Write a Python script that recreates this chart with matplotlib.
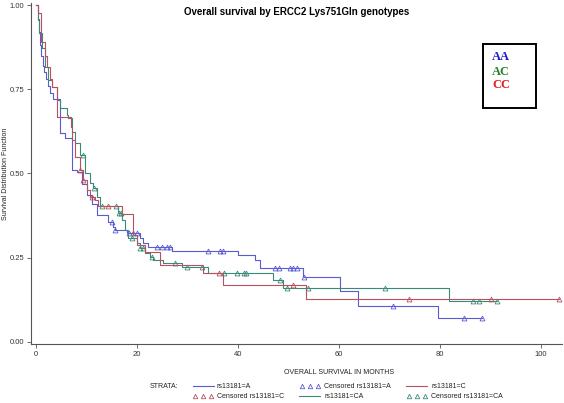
import matplotlib
matplotlib.use("Agg")
import matplotlib.pyplot as plt
from matplotlib.lines import Line2D

plt.rcParams['font.family'] = ['Liberation Sans', 'DejaVu Sans']

# ---- data (months, survival) ----
a_t = [0, 0.3, 0.5, 0.8, 1.0, 1.3, 1.6, 1.9, 2.3, 2.8, 3.4, 4.75, 5.7, 7.1, 8.1, 9.1, 10.1, 11.1,
       12.1, 14.3, 15.2, 15.6, 18.0, 20.6, 21.2, 22.2, 27.0, 40.0, 43.4, 44.4, 52.9, 60.2, 63.8, 79.6, 88.3]
a_s = [1.0, 0.96, 0.92, 0.88, 0.85, 0.82, 0.80, 0.78, 0.76, 0.74, 0.72, 0.62, 0.605, 0.51, 0.505, 0.47,
       0.436, 0.41, 0.377, 0.356, 0.34, 0.332, 0.323, 0.31, 0.294, 0.282, 0.27, 0.258, 0.243, 0.22,
       0.193, 0.15, 0.108, 0.071, 0.071]
a_cens_t = [15.0, 15.6, 18.4, 19.2, 20.0, 24.0, 25.0, 26.0, 26.5, 34.0, 36.4, 37.0, 47.3, 48.1,
            50.3, 50.9, 51.7, 53.1, 70.7, 84.8, 88.3]

c_t = [0, 0.4, 1.0, 1.8, 2.2, 2.8, 3.2, 4.2, 6.9, 7.1, 7.7, 8.7, 9.3, 10.1, 10.7, 11.6, 12.3,
       17.0, 19.2, 20.0, 21.6, 24.5, 33.1, 37.0, 53.5, 103.6]
c_s = [1.0, 0.976, 0.89, 0.85, 0.816, 0.78, 0.757, 0.668, 0.638, 0.60, 0.55, 0.51, 0.48, 0.45,
       0.43, 0.42, 0.405, 0.38, 0.318, 0.288, 0.267, 0.228, 0.205, 0.169, 0.128, 0.128]
c_cens_t = [8.7, 9.4, 11.1, 14.3, 36.2, 50.9, 73.9, 90.1, 103.6]

ca_t = [0, 0.4, 0.6, 1.2, 1.8, 2.4, 3.2, 4.2, 4.75, 6.1, 6.3, 7.1, 7.7, 8.7, 9.7, 10.7, 11.3, 12.1,
        12.7, 16.2, 17.0, 17.6, 18.2, 20.0, 20.6, 21.6, 22.6, 23.2, 25.1, 28.9, 34.0, 46.9, 48.9,
        81.8, 91.3]
ca_s = [1.0, 0.955, 0.917, 0.872, 0.816, 0.777, 0.757, 0.718, 0.694, 0.674, 0.665, 0.623, 0.59,
        0.555, 0.50, 0.472, 0.457, 0.43, 0.405, 0.383, 0.362, 0.332, 0.309, 0.294, 0.279, 0.264,
        0.252, 0.243, 0.234, 0.223, 0.205, 0.184, 0.16, 0.122, 0.122]
ca_cens_t = [9.3, 11.5, 13.1, 15.9, 16.4, 16.8, 19.0, 20.6, 21.2, 23.0, 27.5, 29.9, 32.9, 37.2,
             39.8, 41.2, 41.6, 48.3, 49.7, 53.9, 69.1, 86.5, 87.7, 91.3]

blue, red, green = '#5a5ad2', '#b8505e', '#3a8a78'

W, H = 564, 403
fig = plt.figure(figsize=(W / 100, H / 100), dpi=100)
ax = fig.add_axes([31 / W, 1 - 344 / H, (562 - 31) / W, (344 - 3) / H])


def surv_at(ts, ss, t):
    v = ss[0]
    for ti, si in zip(ts, ss):
        if ti <= t:
            v = si
    return v


for ts, ss, ct, col in [(a_t, a_s, a_cens_t, blue), (ca_t, ca_s, ca_cens_t, green), (c_t, c_s, c_cens_t, red)]:
    ax.plot(ts, ss, drawstyle='steps-post', color=col, lw=0.8)
    ax.plot(ct, [surv_at(ts, ss, t) for t in ct], linestyle='none', marker='^', ms=3.5,
            mfc='none', mec=col, mew=0.6)

ax.set_xlim(-0.99, 104.16)
ax.set_ylim(-0.006, 1.006)
ax.set_xticks([0, 20, 40, 60, 80, 100])
ax.set_yticks([0, 0.25, 0.5, 0.75, 1.0])
ax.set_yticklabels(['0.00', '0.25', '0.50', '0.75', '1.00'])
for s in ['top', 'right']:
    ax.spines[s].set_visible(False)
for s in ['left', 'bottom']:
    ax.spines[s].set_color('#555555')
    ax.spines[s].set_linewidth(0.8)
ax.tick_params(labelsize=5.5, colors='#555555', labelcolor='#333333', length=3, width=0.6, pad=2)

fig.text(297 / W, 1 - 12 / H, 'Overall survival by ERCC2 Lys751Gln genotypes', ha='center', va='center',
         fontsize=7, fontweight='bold')
fig.text(6 / W, 1 - 174 / H, 'Survival Distribution Function', rotation=90, ha='center', va='center',
         fontsize=5, color='#222222')
fig.text(339 / W, 1 - 373 / H, 'OVERALL SURVIVAL IN MONTHS', ha='center', va='center', fontsize=5,
         color='#222222')

# genotype box
box = plt.Rectangle((483 / W, 1 - 108 / H), 53 / W, 64 / H, transform=fig.transFigure,
                    fill=False, ec='black', lw=1.4)
fig.add_artist(box)
for txt, yy, col in [('AA', 57, '#1a1acc'), ('AC', 72, '#2e7d2e'), ('CC', 85, '#e02020')]:
    fig.text(492 / W, 1 - yy / H, txt, color=col, family='Liberation Serif', fontweight='bold',
             fontsize=9, va='center', ha='left')

# bottom legend
ly1, ly2 = 1 - 386 / H, 1 - 396 / H
fs = 5
fig.text(150 / W, ly1, 'STRATA:', fontsize=fs, va='center', color='#222222')


def leg_line(x0, y, col):
    fig.add_artist(Line2D([x0 / W, (x0 + 21) / W], [y, y], transform=fig.transFigure, color=col, lw=0.8))


def leg_tri(x0, y, col):
    fig.add_artist(Line2D([(x0 + 2) / W, (x0 + 10) / W, (x0 + 18) / W], [y, y, y], transform=fig.transFigure,
                          linestyle='none', marker='^', ms=3.2, mfc='none', mec=col, mew=0.6))


leg_line(193, ly1, blue)
fig.text(217 / W, ly1, 'rs13181=A', fontsize=fs, va='center', color='#222222')
leg_tri(300, ly1, blue)
fig.text(324 / W, ly1, 'Censored rs13181=A', fontsize=fs, va='center', color='#222222')
leg_line(406, ly1, red)
fig.text(431 / W, ly1, 'rs13181=C', fontsize=fs, va='center', color='#222222')

leg_tri(193, ly2, red)
fig.text(217 / W, ly2, 'Censored rs13181=C', fontsize=fs, va='center', color='#222222')
leg_line(299, ly2, green)
fig.text(324 / W, ly2, 'rs13181=CA', fontsize=fs, va='center', color='#222222')
leg_tri(407, ly2, green)
fig.text(431 / W, ly2, 'Censored rs13181=CA', fontsize=fs, va='center', color='#222222')

fig.savefig('out.png', dpi=100)
